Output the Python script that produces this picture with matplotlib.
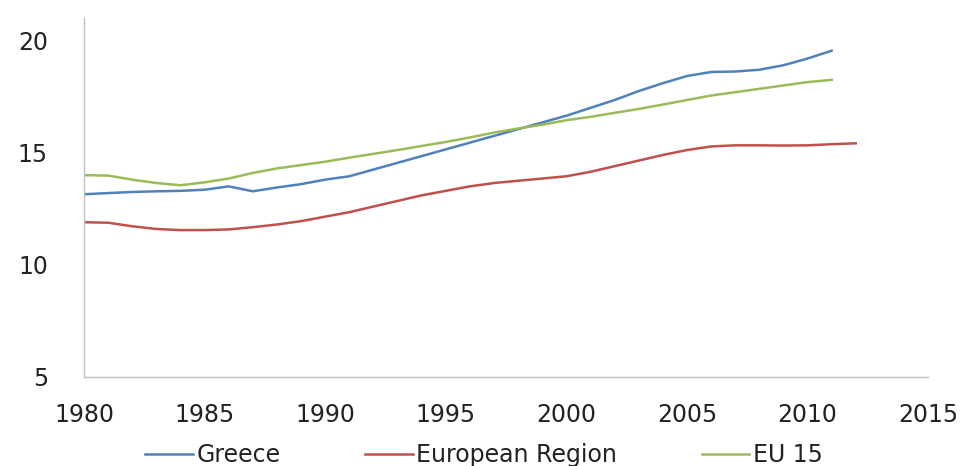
import matplotlib
matplotlib.use("Agg")
import matplotlib.pyplot as plt

# annual values, 1980 onwards
years_greece = list(range(1980, 2012))
greece = [13.15, 13.2, 13.25, 13.28, 13.3, 13.35, 13.5, 13.28, 13.45, 13.6,
          13.8, 13.95, 14.25, 14.55, 14.85, 15.15, 15.45, 15.75, 16.05, 16.35,
          16.65, 17.0, 17.35, 17.75, 18.1, 18.42, 18.6, 18.62, 18.7, 18.9,
          19.2, 19.55]

years_region = list(range(1980, 2013))
region = [11.9, 11.88, 11.72, 11.6, 11.55, 11.55, 11.58, 11.68, 11.8, 11.95,
          12.15, 12.35, 12.6, 12.85, 13.1, 13.3, 13.5, 13.65, 13.75, 13.85,
          13.95, 14.15, 14.4, 14.65, 14.9, 15.12, 15.28, 15.33, 15.33, 15.32,
          15.33, 15.38, 15.42]

years_eu15 = list(range(1980, 2012))
eu15 = [14.0, 13.98, 13.8, 13.65, 13.55, 13.68, 13.85, 14.1, 14.3, 14.45,
        14.6, 14.78, 14.95, 15.12, 15.3, 15.48, 15.68, 15.9, 16.08, 16.25,
        16.45, 16.6, 16.78, 16.95, 17.15, 17.35, 17.55, 17.7, 17.85, 18.0,
        18.15, 18.25]

xticks = list(range(1980, 2016, 5))
yticks = [5, 10, 15, 20]

fig = plt.figure(figsize=(9.68, 4.66), dpi=100)
ax = fig.add_axes([0.0868, 0.191, 0.872, 0.770])

ax.plot(years_greece, greece, color="#4F81BD", lw=1.8, label="Greece")
ax.plot(years_region, region, color="#C0504D", lw=1.8, label="European Region")
ax.plot(years_eu15, eu15, color="#9BBB59", lw=1.8, label="EU 15")

ax.set_xlim(1980, 2015)
ax.set_ylim(5, 21)
ax.set_xticks(xticks)
ax.set_yticks(yticks)
ax.tick_params(axis="x", length=0, pad=19, labelsize=17, labelcolor="#222222")
ax.tick_params(axis="y", length=0, pad=26, labelsize=17, labelcolor="#222222")

for side in ("top", "right"):
    ax.spines[side].set_visible(False)
for side in ("left", "bottom"):
    ax.spines[side].set_color("#BFBFBF")
    ax.spines[side].set_linewidth(1.0)

fig.legend(loc="center", bbox_to_anchor=(0.5, 0.024), ncol=3,
           frameon=False, fontsize=17, handlelength=2.0, handletextpad=0.15,
           columnspacing=3.6, labelcolor="#222222",
           borderpad=0, borderaxespad=0)

fig.savefig("out.png", dpi=100)
